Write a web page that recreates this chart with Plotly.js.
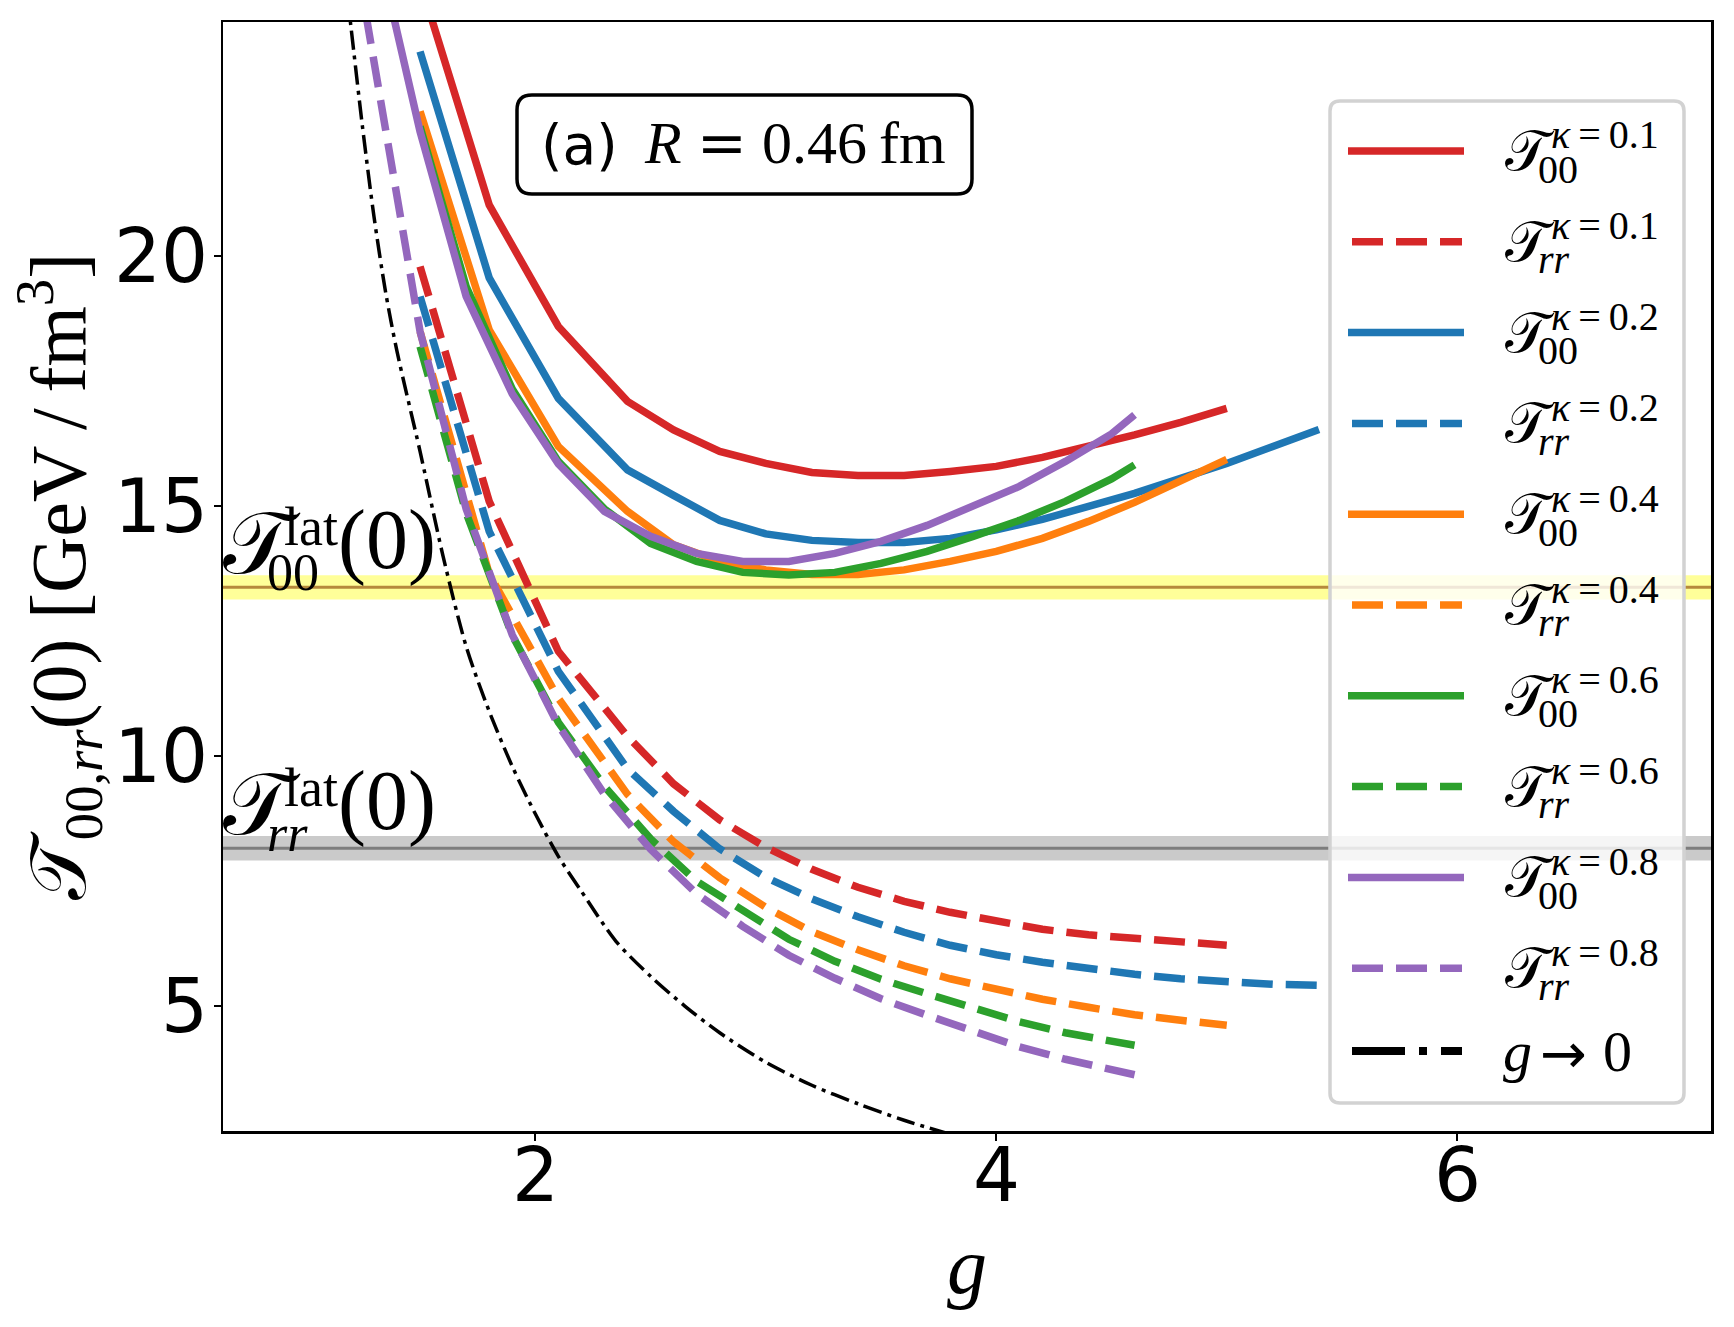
<!DOCTYPE html>
<html>
<head>
<meta charset="utf-8">
<script src="https://cdn.plot.ly/plotly-3.0.1.min.js"></script>
<style>
  html, body { margin: 0; padding: 0; background: #ffffff; }
  #chart { width: 1734px; height: 1327px; }
</style>
</head>
<body>
<div id="chart"></div>
<script>
// ---- energy-momentum tensor at the origin vs. coupling g, R = 0.46 fm ----
// kappa = 0.1
const gK01   = [1.5, 1.8, 2.1, 2.4, 2.6, 2.8, 3.0, 3.2, 3.4, 3.6, 3.8, 4.0, 4.2, 4.4, 4.6, 4.8, 5.0];
const t00K01 = [25.5, 21.03, 18.6, 17.1, 16.53, 16.1, 15.86, 15.68, 15.62, 15.62, 15.70, 15.80, 15.98, 16.2, 16.43, 16.68, 16.96];
const trrK01 = [19.8, 15.1, 12.1, 10.4, 9.45, 8.73, 8.18, 7.74, 7.38, 7.10, 6.88, 6.70, 6.54, 6.43, 6.35, 6.28, 6.22];
// kappa = 0.2
const gK02   = [1.5, 1.8, 2.1, 2.4, 2.6, 2.8, 3.0, 3.2, 3.4, 3.6, 3.8, 4.0, 4.2, 4.4, 4.6, 4.8, 5.0, 5.2, 5.4];
const t00K02 = [24.1, 19.57, 17.16, 15.73, 15.22, 14.72, 14.45, 14.32, 14.28, 14.28, 14.36, 14.53, 14.74, 15.0, 15.26, 15.56, 15.86, 16.2, 16.54];
const trrK02 = [19.2, 14.5, 11.7, 9.75, 8.9, 8.15, 7.58, 7.15, 6.79, 6.48, 6.22, 6.03, 5.88, 5.75, 5.64, 5.55, 5.48, 5.44, 5.42];
// kappa = 0.4
const gK04   = [1.5, 1.8, 2.1, 2.4, 2.6, 2.8, 3.0, 3.2, 3.4, 3.6, 3.8, 4.0, 4.2, 4.4, 4.6, 4.8, 5.0];
const t00K04 = [22.9, 18.53, 16.2, 14.9, 14.23, 13.9, 13.73, 13.64, 13.64, 13.73, 13.90, 14.10, 14.36, 14.70, 15.08, 15.50, 15.94];
const trrK04 = [18.5, 13.65, 11.16, 9.24, 8.29, 7.57, 6.98, 6.49, 6.13, 5.81, 5.55, 5.33, 5.14, 4.98, 4.83, 4.72, 4.62];
// kappa = 0.6
const gK06   = [1.5, 1.7, 1.9, 2.1, 2.3, 2.5, 2.7, 2.9, 3.1, 3.3, 3.5, 3.7, 3.9, 4.1, 4.3, 4.5, 4.6];
const t00K06 = [22.6, 19.4, 17.35, 15.9, 14.95, 14.26, 13.9, 13.68, 13.63, 13.68, 13.86, 14.1, 14.4, 14.72, 15.1, 15.55, 15.83];
const trrK06 = [18.2, 14.87, 12.42, 10.68, 9.4, 8.35, 7.5, 6.9, 6.34, 5.9, 5.54, 5.25, 4.96, 4.69, 4.47, 4.3, 4.22];
// kappa = 0.8
const gK08   = [1.2, 1.5, 1.7, 1.9, 2.1, 2.3, 2.5, 2.7, 2.9, 3.1, 3.3, 3.5, 3.7, 3.9, 4.1, 4.3, 4.5, 4.6];
const t00K08 = [28.5, 22.5, 19.2, 17.25, 15.85, 14.9, 14.4, 14.06, 13.9, 13.9, 14.06, 14.3, 14.62, 15.0, 15.4, 15.9, 16.45, 16.83];
const trrK08 = [26.6, 18.5, 14.95, 12.43, 10.62, 9.24, 8.14, 7.25, 6.6, 6.02, 5.56, 5.15, 4.82, 4.49, 4.19, 3.94, 3.72, 3.63];
// weak-coupling limit g -> 0
const gZero = [1.15, 1.2, 1.25, 1.3, 1.35, 1.4, 1.5, 1.6, 1.7, 1.8, 1.9, 2.0, 2.1, 2.2, 2.35, 2.5, 2.65, 2.8, 3.0, 3.2, 3.4, 3.6, 3.8];
const tZero = [26.6, 24.6, 22.6, 20.8, 19.3, 18.1, 16.1, 14.0, 12.2, 10.9, 9.8, 8.85, 8.0, 7.3, 6.3, 5.6, 5.0, 4.47, 3.88, 3.42, 3.05, 2.72, 2.44];
// lattice reference values (centre, half-width)
const t00Lat = 13.38, t00LatErr = 0.245;
const trrLat = 8.16,  trrLatErr = 0.245;

const kappaLabels = ['0.1', '0.2', '0.4', '0.6', '0.8'];
const gGrids  = [gK01, gK02, gK04, gK06, gK08];
const t00Sets = [t00K01, t00K02, t00K04, t00K06, t00K08];
const trrSets = [trrK01, trrK02, trrK04, trrK06, trrK08];
const xTicks = [2, 4, 6];
const yTicks = [5, 10, 15, 20];

// ---- styling ----
const colors = ['#d62728', '#1f77b4', '#ff7f0e', '#2ca02c', '#9467bd'];
const LW = 7.5;
const DASH = '31px,13px';
const DASHDOT = '19px,6px,4px,6px';
const SERIF = 'Liberation Serif, DejaVu Serif, serif';
const SANS = 'DejaVu Sans, sans-serif';
const CAL = '\u{1D4AF}';   // script capital T
const TICKFONT = { size: 74, family: SANS, color: '#000000' };

// plot-area geometry in page pixels, used for the overlay boxes
const PL = 223, PR = 1711, PT = 22, PB = 1131;
const px = x => (x - PL) / (PR - PL);
const py = y => (PB - y) / (PB - PT);

const traces = [];
for (let i = 0; i < gGrids.length; i++) {
  traces.push({ x: gGrids[i], y: t00Sets[i], type: 'scatter', mode: 'lines',
    line: { color: colors[i], width: LW }, hoverinfo: 'skip' });
  traces.push({ x: gGrids[i], y: trrSets[i], type: 'scatter', mode: 'lines',
    line: { color: colors[i], width: LW, dash: DASH }, hoverinfo: 'skip' });
}
traces.push({ x: gZero, y: tZero, type: 'scatter', mode: 'lines',
  line: { color: '#000000', width: 3.5, dash: DASHDOT, shape: 'spline', smoothing: 0.8 }, hoverinfo: 'skip' });

// rounded rectangle path in paper coordinates
function roundRect(x1, y1, x2, y2, r) {
  const X = v => px(v).toFixed(5), Y = v => py(v).toFixed(5);
  return `M${X(x1 + r)},${Y(y1)} L${X(x2 - r)},${Y(y1)} Q${X(x2)},${Y(y1)} ${X(x2)},${Y(y1 + r)} ` +
         `L${X(x2)},${Y(y2 - r)} Q${X(x2)},${Y(y2)} ${X(x2 - r)},${Y(y2)} ` +
         `L${X(x1 + r)},${Y(y2)} Q${X(x1)},${Y(y2)} ${X(x1)},${Y(y2 - r)} ` +
         `L${X(x1)},${Y(y1 + r)} Q${X(x1)},${Y(y1)} ${X(x1 + r)},${Y(y1)} Z`;
}

const shapes = [
  // lattice bands and their central values
  { type: 'rect', xref: 'paper', yref: 'y', x0: 0, x1: 1, y0: t00Lat - t00LatErr, y1: t00Lat + t00LatErr,
    fillcolor: 'rgba(255,255,0,0.4)', line: { width: 0 }, layer: 'below' },
  { type: 'line', xref: 'paper', yref: 'y', x0: 0, x1: 1, y0: t00Lat, y1: t00Lat,
    line: { color: 'rgb(182,137,60)', width: 3 }, layer: 'below' },
  { type: 'rect', xref: 'paper', yref: 'y', x0: 0, x1: 1, y0: trrLat - trrLatErr, y1: trrLat + trrLatErr,
    fillcolor: 'rgba(128,128,128,0.42)', line: { width: 0 }, layer: 'below' },
  { type: 'line', xref: 'paper', yref: 'y', x0: 0, x1: 1, y0: trrLat, y1: trrLat,
    line: { color: 'rgb(125,125,125)', width: 3 }, layer: 'below' },
  // panel label box
  { type: 'path', xref: 'paper', yref: 'paper', path: roundRect(517, 95, 972, 194, 15),
    fillcolor: '#ffffff', line: { color: '#000000', width: 3.5 }, layer: 'above' },
  // legend frame
  { type: 'path', xref: 'paper', yref: 'paper', path: roundRect(1330, 101, 1684, 1103, 10),
    fillcolor: 'rgba(255,255,255,0.8)', line: { color: 'rgb(210,210,210)', width: 3.5 }, layer: 'above' }
];

const annotations = [];
function txt(text, xPx, yPx, size, family, extra) {
  annotations.push(Object.assign({
    text: text, xref: 'paper', yref: 'paper', x: px(xPx), y: py(yPx),
    xanchor: 'left', yanchor: 'middle', showarrow: false,
    font: { size: size, family: family, color: '#000000' }
  }, extra || {}));
}

// tick labels, placed on the axis values
xTicks.forEach(v => annotations.push({ text: String(v), xref: 'x', x: v, yref: 'paper', y: py(1175),
  xanchor: 'center', yanchor: 'middle', showarrow: false, font: TICKFONT }));
yTicks.forEach(v => annotations.push({ text: String(v), xref: 'paper', x: px(210), yref: 'y', y: v,
  xanchor: 'right', yanchor: 'middle', showarrow: false, font: TICKFONT }));

// legend entries
const LEG0 = 151, LEGSTEP = 90.8;
for (let i = 0; i < kappaLabels.length; i++) {
  for (let k = 0; k < 2; k++) {
    const row = 2 * i + k;
    const yc = LEG0 + row * LEGSTEP;
    shapes.push({ type: 'line', xref: 'paper', yref: 'paper',
      x0: px(k === 0 ? 1348 : 1352), x1: px(k === 0 ? 1464 : 1462), y0: py(yc), y1: py(yc),
      line: { color: colors[i], width: LW, dash: k === 0 ? 'solid' : DASH }, layer: 'above' });
    txt(CAL, 1503, yc, 56, SERIF);
    txt('<i>\u03BA</i>\u2009=\u2009' + kappaLabels[i], 1549, yc - 16, 40, SERIF);
    txt(k === 0 ? '00' : '<i>rr</i>', 1536, yc + 18, 40, SERIF);
  }
}
const yZeroRow = 1051;
shapes.push({ type: 'line', xref: 'paper', yref: 'paper', x0: px(1352), x1: px(1462),
  y0: py(yZeroRow), y1: py(yZeroRow), line: { color: '#000000', width: 8, dash: '53px,14px,8px,14px' }, layer: 'above' });
txt('<i>g</i>', 1501, yZeroRow, 58, SERIF);
txt('\u2192', 1538, yZeroRow + 2, 56, SANS);
txt('0', 1601, yZeroRow, 58, SERIF);

// panel label
txt('(a)', 539, 145, 55, SANS);
txt('<i>R</i> <span style="font-family:DejaVu Serif">=</span> 0.46\u2009fm', 642, 142, 60, SERIF);

// lattice labels, anchored to the band values
function latLabel(val, sub) {
  const base = { xref: 'paper', yref: 'y', x: 0, y: val, xanchor: 'left', yanchor: 'middle', showarrow: false };
  annotations.push(Object.assign({}, base, { text: CAL, xshift: -2, yshift: 44, font: { size: 88, family: SERIF, color: '#000' } }));
  annotations.push(Object.assign({}, base, { text: 'lat', xshift: 59, yshift: 60, font: { size: 54, family: SERIF, color: '#000' } }));
  annotations.push(Object.assign({}, base, { text: sub, xshift: 42, yshift: 15, font: { size: 52, family: SERIF, color: '#000' } }));
  annotations.push(Object.assign({}, base, { text: '(0)', xshift: 113, yshift: 47, font: { size: 84, family: SERIF, color: '#000' } }));
}
latLabel(t00Lat, '00');
latLabel(trrLat, '<i>rr</i>');

const axisCommon = {
  showgrid: false, zeroline: false, showline: true, linecolor: '#000000', linewidth: 2.5, mirror: true,
  ticks: 'outside', ticklen: 7, tickwidth: 2, tickcolor: '#000000', showticklabels: false
};

const layout = {
  width: 1734, height: 1327,
  margin: { l: PL, r: 1734 - PR, t: PT, b: 1327 - PB, pad: 0 },
  paper_bgcolor: '#ffffff', plot_bgcolor: '#ffffff',
  showlegend: false,
  font: { family: SANS, color: '#000000' },
  xaxis: Object.assign({}, axisCommon, {
    range: [0.645, 7.101], tickvals: xTicks,
    title: { text: '<i>g</i>', font: { size: 80, family: SERIF, color: '#000000' }, standoff: 98 }
  }),
  yaxis: Object.assign({}, axisCommon, {
    range: [2.505, 24.69], tickvals: yTicks,
    title: { text: CAL + '<sub>00,<i>rr</i></sub>(0) [GeV\u2009/\u2009fm<sup>3</sup>]',
             font: { size: 78, family: SERIF, color: '#000000' }, standoff: 102 }
  }),
  shapes: shapes,
  annotations: annotations
};

Plotly.newPlot('chart', traces, layout, { staticPlot: true, displayModeBar: false });
</script>
</body>
</html>
